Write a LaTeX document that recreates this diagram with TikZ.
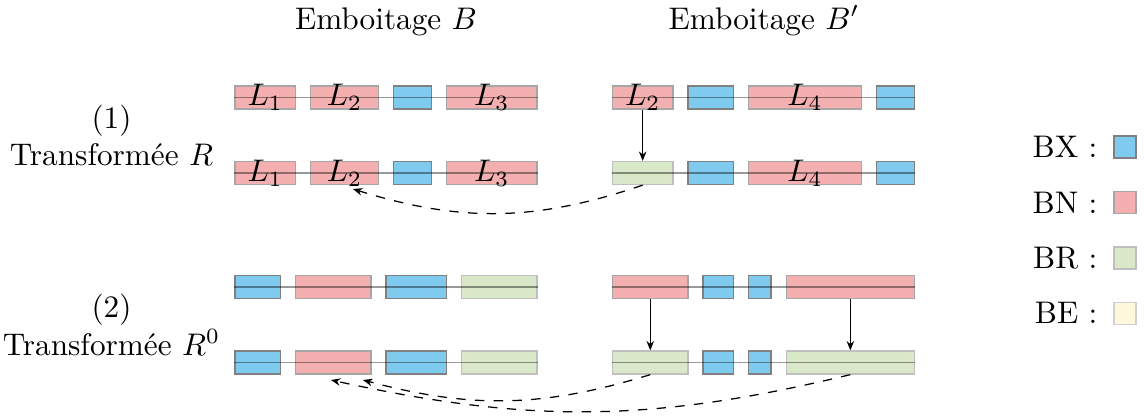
\documentclass[tikz,border=0pt]{standalone}
\usepackage{fontspec}
\usetikzlibrary{arrows.meta}
\definecolor{cbx}{RGB}{127,203,240}
\definecolor{cbn}{RGB}{244,175,176}
\definecolor{cbr}{RGB}{217,232,201}
\definecolor{cbe}{RGB}{255,248,220}
\newcommand\blk[6]{%
  \pgfmathsetmacro\bxa{#2+(#3)*15.1}%
  \pgfmathsetmacro\bxb{#2+(#4)*15.1}%
  \pgfmathsetmacro\bxc{(\bxa+\bxb)/2}%
  \pgfmathsetmacro\bxw{((#4)-(#3))*15.1*0.32}%
  \node[#6, minimum width=\bxw pt] (#1) at (\bxc,#5) {};}
\tikzset{
  blkbox/.style={rectangle, inner sep=0pt, minimum height=7.36pt, line width=0.4pt},
  sbx/.style={blkbox, fill=cbx, draw=black!50},
  sbn/.style={blkbox, fill=cbn, draw=black!35},
  sbr/.style={blkbox, fill=cbr, draw=black!25},
  sbe/.style={blkbox, fill=cbe, draw=black!18},
  legbox/.style={minimum width=7.04pt, minimum height=7.04pt},
  legtxt/.style={anchor=east, inner sep=0pt},
  rowline/.style={draw=black, opacity=0.4, line width=0.4pt},
  solidarr/.style={-{Stealth[length=3pt,width=2.4pt]}, line width=0.4pt},
  dasharr/.style={dashed, -{Stealth[length=3pt,width=2.4pt]}, line width=0.4pt}
}
\begin{document}
\begin{tikzpicture}[x=0.32pt, y=0.32pt]
\useasboundingbox (0,0) rectangle (1144,-416);
% titles
\node[anchor=base] (tB) at (386,-29) {Emboitage $B$};
\node[anchor=base] (tBp) at (764,-29) {Emboitage $B'$};
\node[align=center] (s1) at (111.5,-135.25) {(1)\\Transformée $R$};
\node[align=center] (s2) at (111.5,-324.75) {(2)\\Transformée $R^0$};
% row 1 left
\blk{a1}{235}{0}{4}{-97.5}{sbn}
\blk{a2}{235}{5}{9.5}{-97.5}{sbn}
\blk{a3}{235}{10.5}{13}{-97.5}{sbx}
\blk{a4}{235}{14}{20}{-97.5}{sbn}
% row 2 left
\blk{b1}{235}{0}{4}{-173}{sbn}
\blk{b2}{235}{5}{9.5}{-173}{sbn}
\blk{b3}{235}{10.5}{13}{-173}{sbx}
\blk{b4}{235}{14}{20}{-173}{sbn}
% row 1 right
\blk{c1}{612.5}{0}{4}{-97.5}{sbn}
\blk{c2}{612.5}{5}{8}{-97.5}{sbx}
\blk{c3}{612.5}{9}{16.5}{-97.5}{sbn}
\blk{c4}{612.5}{17.5}{20}{-97.5}{sbx}
% row 2 right
\blk{d1}{612.5}{0}{4}{-173}{sbr}
\blk{d2}{612.5}{5}{8}{-173}{sbx}
\blk{d3}{612.5}{9}{16.5}{-173}{sbn}
\blk{d4}{612.5}{17.5}{20}{-173}{sbx}
% row 3 left
\blk{e1}{235}{0}{3}{-287}{sbx}
\blk{e2}{235}{4}{9}{-287}{sbn}
\blk{e3}{235}{10}{14}{-287}{sbx}
\blk{e4}{235}{15}{20}{-287}{sbr}
% row 4 left
\blk{f1}{235}{0}{3}{-362.5}{sbx}
\blk{f2}{235}{4}{9}{-362.5}{sbn}
\blk{f3}{235}{10}{14}{-362.5}{sbx}
\blk{f4}{235}{15}{20}{-362.5}{sbr}
% row 3 right
\blk{g1}{612.5}{0}{5}{-287}{sbn}
\blk{g2}{612.5}{6}{8}{-287}{sbx}
\blk{g3}{612.5}{9}{10.5}{-287}{sbx}
\blk{g4}{612.5}{11.5}{20}{-287}{sbn}
% row 4 right
\blk{h1}{612.5}{0}{5}{-362.5}{sbr}
\blk{h2}{612.5}{6}{8}{-362.5}{sbx}
\blk{h3}{612.5}{9}{10.5}{-362.5}{sbx}
\blk{h4}{612.5}{11.5}{20}{-362.5}{sbr}
% row lines
\draw[rowline] (a1.west) -- (a4.east);
\draw[rowline] (b1.west) -- (b4.east);
\draw[rowline] (c1.west) -- (c4.east);
\draw[rowline] (d1.west) -- (d4.east);
\draw[rowline] (e1.west) -- (e4.east);
\draw[rowline] (f1.west) -- (f4.east);
\draw[rowline] (g1.west) -- (g4.east);
\draw[rowline] (h1.west) -- (h4.east);
% labels
\node (la1) at (a1.center) {$L_1$};
\node (la2) at (a2.center) {$L_2$};
\node (la4) at (a4.center) {$L_3$};
\node (lb1) at (b1.center) {$L_1$};
\node (lb2) at (b2.center) {$L_2$};
\node (lb4) at (b4.center) {$L_3$};
\node (lc1) at (c1.center) {$L_2$};
\node (lc3) at (c3.center) {$L_4$};
\node (ld3) at (d3.center) {$L_4$};
% arrows
\draw[solidarr] (c1.south) -- (d1.north);
\draw[solidarr] (g1.south) -- (h1.north);
\draw[solidarr] (g4.south) -- (h4.north);
\coordinate (t1) at (353,-189);
\coordinate (t2) at (363,-380);
\coordinate (t3) at (331,-380);
\draw[dasharr] (d1.south) to[bend left=18] (t1);
\draw[dasharr] (h1.south) to[bend left=16] (t2);
\draw[dasharr] (h4.south) to[bend left=13] (t3);
% legend
\node[sbx, legbox] (kx) at (1125,-147) {};
\node[sbn, legbox] (kn) at (1125,-202.5) {};
\node[sbr, legbox] (kr) at (1125,-258) {};
\node[sbe, legbox] (ke) at (1125,-313.3) {};
\node[legtxt] (kxt) at (1098,-147) {BX :};
\node[legtxt] (knt) at (1098,-202.5) {BN :};
\node[legtxt] (krt) at (1098,-258) {BR :};
\node[legtxt] (ket) at (1098,-313.3) {BE :};
\end{tikzpicture}
\end{document}
